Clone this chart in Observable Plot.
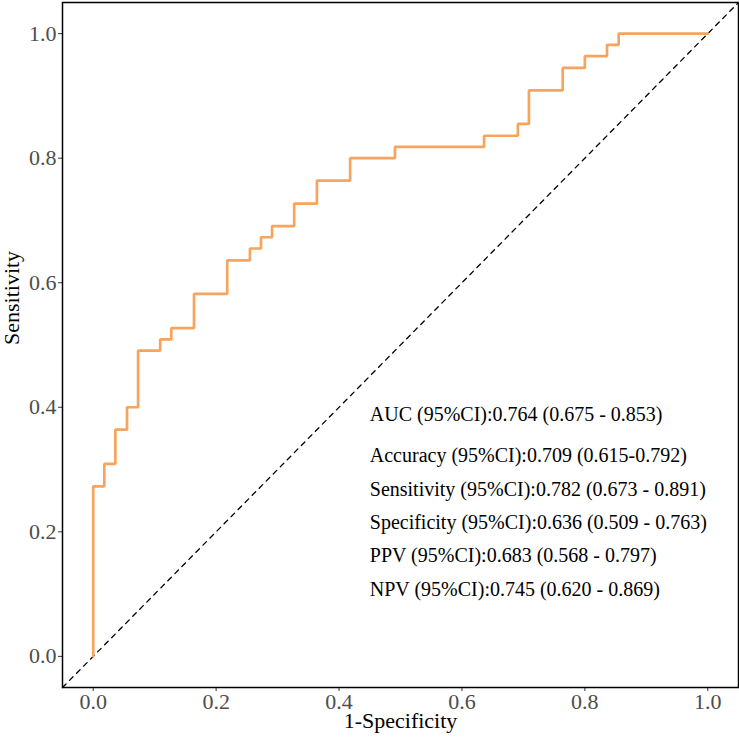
<!DOCTYPE html>
<html>
<head>
<meta charset="utf-8">
<script src="https://cdn.jsdelivr.net/npm/d3@7"></script>
<script src="https://cdn.jsdelivr.net/npm/@observablehq/plot@0.6"></script>
<style>
  html, body { margin: 0; padding: 0; background: #fff; }
  #chart svg { display: block; }
</style>
</head>
<body>
<div id="chart"></div>
<script>
// ROC curve corners: false positive rate (1 - specificity) and true positive rate
const fpr = [0, 0, 0.018, 0.018, 0.036, 0.036, 0.055, 0.055, 0.073, 0.073, 0.109, 0.109,
  0.127, 0.127, 0.164, 0.164, 0.218, 0.218, 0.255, 0.255, 0.273, 0.273, 0.291, 0.291,
  0.327, 0.327, 0.364, 0.364, 0.418, 0.418, 0.491, 0.491, 0.636, 0.636, 0.691, 0.691,
  0.709, 0.709, 0.764, 0.764, 0.8, 0.8, 0.836, 0.836, 0.855, 0.855, 1];
const tpr = [0, 0.273, 0.273, 0.309, 0.309, 0.364, 0.364, 0.4, 0.4, 0.491, 0.491, 0.509,
  0.509, 0.527, 0.527, 0.582, 0.582, 0.636, 0.636, 0.655, 0.655, 0.673, 0.673, 0.691,
  0.691, 0.727, 0.727, 0.764, 0.764, 0.8, 0.8, 0.818, 0.818, 0.836, 0.836, 0.855,
  0.855, 0.909, 0.909, 0.945, 0.945, 0.964, 0.964, 0.982, 0.982, 1, 1];

// Performance summary text and the sensitivity level each line sits at
const statLabels = [
  "AUC (95%CI):0.764 (0.675 - 0.853)",
  "Accuracy (95%CI):0.709 (0.615-0.792)",
  "Sensitivity (95%CI):0.782 (0.673 - 0.891)",
  "Specificity (95%CI):0.636 (0.509 - 0.763)",
  "PPV (95%CI):0.683 (0.568 - 0.797)",
  "NPV (95%CI):0.745 (0.620 - 0.869)"
];
const statY = [0.389, 0.323, 0.268, 0.215, 0.162, 0.108];
const statX = 0.45;

const ticks = [0, 0.2, 0.4, 0.6, 0.8, 1.0];
const axisDomain = [-0.05, 1.05];

const roc = fpr.map((x, i) => ({x, y: tpr[i]}));
const diagonal = axisDomain.map(v => ({x: v, y: v}));
const stats = statLabels.map((text, i) => ({text, x: statX, y: statY[i]}));

const serif = "'Liberation Serif', 'Times New Roman', serif";

const chart = Plot.plot({
  width: 739,
  height: 737,
  marginLeft: 62,
  marginRight: 1,
  marginTop: 2,
  marginBottom: 50,
  style: {fontFamily: serif, background: "#fff"},
  x: {domain: axisDomain, ticks, tickFormat: d3.format(".1f")},
  y: {domain: axisDomain, ticks, tickFormat: d3.format(".1f")},
  marks: [
    Plot.axisX({ticks, tickFormat: d3.format(".1f"), tickSize: 4, tickPadding: 2,
      fontSize: 22, color: "#4D4D4D", stroke: "#333", label: null}),
    Plot.axisY({ticks, tickFormat: d3.format(".1f"), tickSize: 4, tickPadding: 2,
      fontSize: 22, color: "#4D4D4D", stroke: "#333", label: null}),
    Plot.line(diagonal, {x: "x", y: "y", stroke: "black", strokeWidth: 1.3,
      strokeDasharray: "5,5"}),
    Plot.line(roc, {x: "x", y: "y", stroke: "#F6A45E", strokeWidth: 2.7,
      strokeLinejoin: "miter"}),
    Plot.text(stats, {x: "x", y: "y", text: "text", textAnchor: "start",
      fontSize: 20, fill: "black", lineAnchor: "middle"}),
    Plot.text(["1-Specificity"], {frameAnchor: "bottom", dy: 33, fontSize: 22,
      fill: "black", lineAnchor: "middle"}),
    Plot.text(["Sensitivity"], {frameAnchor: "left", dx: -51, rotate: -90,
      fontSize: 22, fill: "black", lineAnchor: "middle"}),
    Plot.frame({stroke: "black", strokeWidth: 1.5})
  ]
});

document.getElementById("chart").appendChild(chart);
</script>
</body>
</html>
